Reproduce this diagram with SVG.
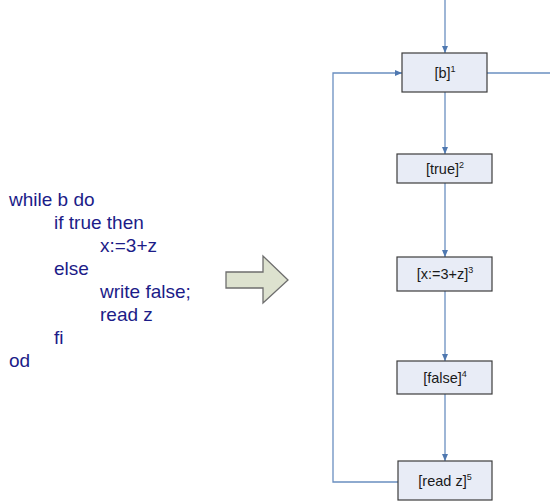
<svg xmlns="http://www.w3.org/2000/svg" width="550" height="504" viewBox="0 0 550 504">
  <style>
    .code { font-family: "Liberation Sans", Arial, sans-serif; font-size: 19px; fill: #1c1c88; }
    .box { fill: #e8ecf6; stroke: #3c3c3c; stroke-width: 1.2; }
    .lbl { font-family: "Liberation Sans", Arial, sans-serif; font-size: 14.5px; fill: #1a1a1a; text-anchor: middle; }
    .sup { font-size: 9px; }
    .edge { fill: none; stroke: #6a8fc0; stroke-width: 1.3; }
  </style>
  <defs>
    <marker id="ah" markerWidth="8" markerHeight="8" refX="7" refY="4" orient="auto" markerUnits="userSpaceOnUse">
      <path d="M0,1 L7,4 L0,7 Z" fill="#4f78b0"/>
    </marker>
  </defs>
  <rect width="550" height="504" fill="#ffffff"/>

  <!-- source program -->
  <g id="program">
    <text class="code" x="9" y="206">while b do</text>
    <text class="code" x="54" y="229">if true then</text>
    <text class="code" x="100" y="252">x:=3+z</text>
    <text class="code" x="54" y="275">else</text>
    <text class="code" x="100" y="298">write false;</text>
    <text class="code" x="100" y="321">read z</text>
    <text class="code" x="54" y="344">fi</text>
    <text class="code" x="9" y="367">od</text>
  </g>

  <!-- transformation arrow -->
  <g id="transform-arrow">
    <path d="M226,272 L263,272 L263,256 L288,280 L263,303 L263,288 L226,288 Z" fill="#dde2cf" stroke="#6e6e6e" stroke-width="1.3"/>
  </g>

  <!-- connectors -->
  <g id="edges">
    <line class="edge" x1="445" y1="0" x2="445" y2="53" marker-end="url(#ah)"/>
    <line class="edge" x1="487" y1="73" x2="550" y2="73"/>
    <line class="edge" x1="445" y1="92" x2="445" y2="154" marker-end="url(#ah)"/>
    <line class="edge" x1="445" y1="183" x2="445" y2="257" marker-end="url(#ah)"/>
    <line class="edge" x1="445" y1="291" x2="445" y2="361" marker-end="url(#ah)"/>
    <line class="edge" x1="445" y1="394" x2="445" y2="461" marker-end="url(#ah)"/>
    <polyline class="edge" points="398,482 333,482 333,73 402,73" marker-end="url(#ah)"/>
  </g>

  <g id="n1">
    <rect class="box" x="402" y="53" width="85" height="39"/>
    <text class="lbl" x="445" y="78">[b]<tspan class="sup" dy="-6">1</tspan></text>
  </g>
  <g id="n2">
    <rect class="box" x="397" y="154" width="95" height="29"/>
    <text class="lbl" x="445" y="174">[true]<tspan class="sup" dy="-6">2</tspan></text>
  </g>
  <g id="n3">
    <rect class="box" x="397" y="257" width="95" height="34"/>
    <text class="lbl" x="445" y="279">[x:=3+z]<tspan class="sup" dy="-6">3</tspan></text>
  </g>
  <g id="n4">
    <rect class="box" x="397" y="361" width="95" height="33"/>
    <text class="lbl" x="445" y="383">[false]<tspan class="sup" dy="-6">4</tspan></text>
  </g>
  <g id="n5">
    <rect class="box" x="398" y="461" width="94" height="39"/>
    <text class="lbl" x="445" y="486">[read z]<tspan class="sup" dy="-6">5</tspan></text>
  </g>
</svg>
